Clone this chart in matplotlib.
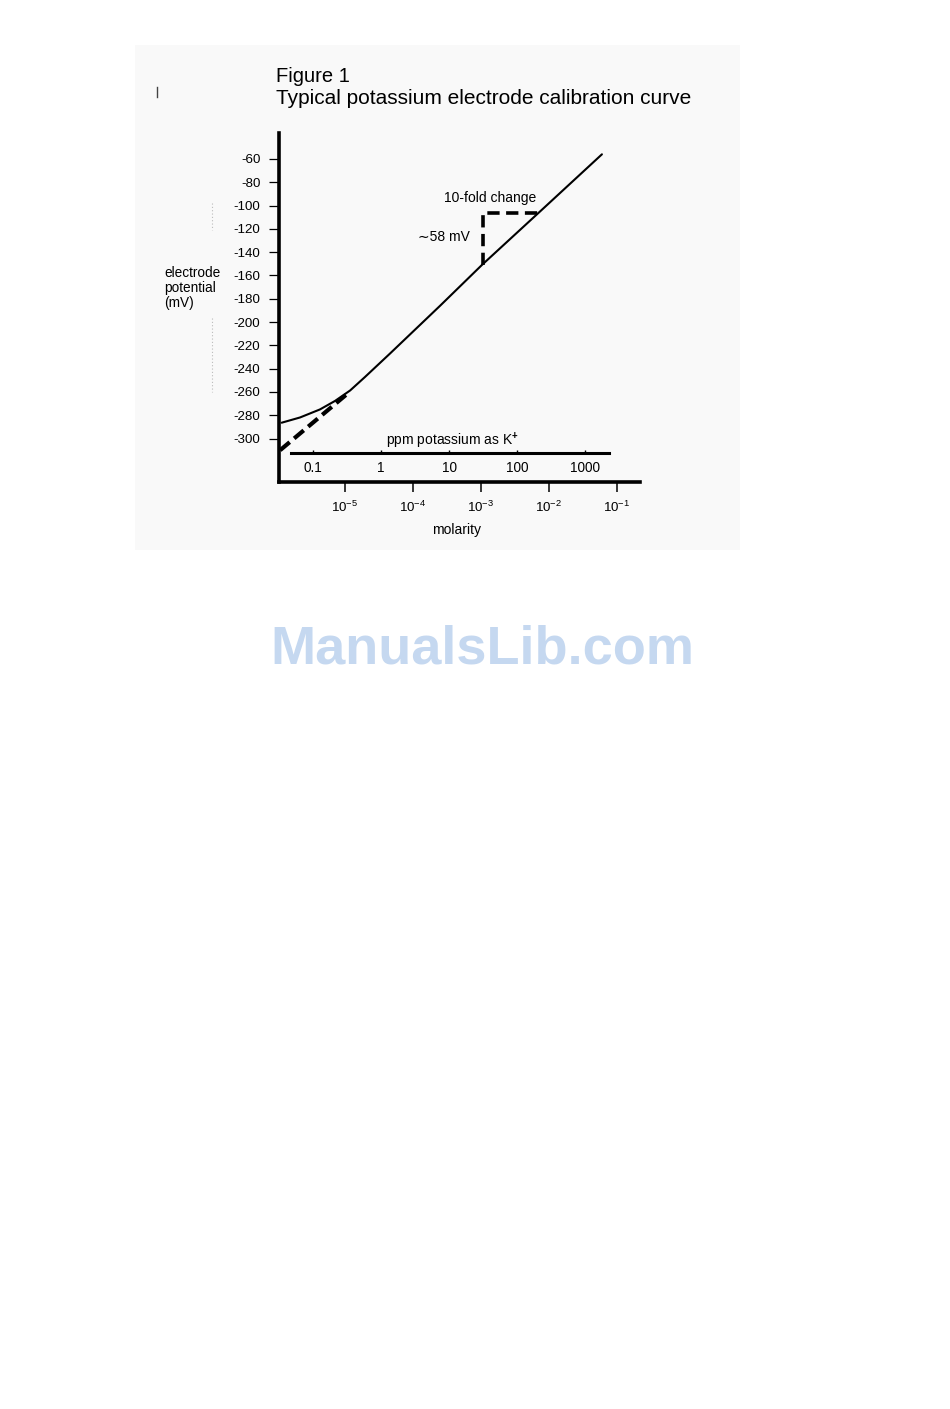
import matplotlib
matplotlib.use("Agg")
import matplotlib.pyplot as plt
from matplotlib.lines import Line2D
from matplotlib.patches import Rectangle
from matplotlib.ticker import NullLocator

plt.rcParams['font.family'] = ['Liberation Sans', 'DejaVu Sans']
plt.rcParams['mathtext.fontset'] = 'custom'
plt.rcParams['mathtext.rm'] = 'Liberation Sans'
plt.rcParams['mathtext.it'] = 'Liberation Sans:italic'
plt.rcParams['mathtext.bf'] = 'Liberation Sans:bold'
plt.rcParams['axes.unicode_minus'] = False

# calibration curve (molarity, mV)
molarity = [1.17e-6, 2.18e-6, 4.28e-6, 7.13e-6, 1.19e-5, 1.97e-5, 4.59e-5, 2.5e-4, 1.03e-3, 7.4e-3, 6.0e-2]
potential = [-286.4, -281.9, -275.0, -267.7, -258.7, -247.1, -227.0, -186, -151, -105, -56]

# dashed extrapolation of the linear part
extrap_molarity = [1.11e-6, 1.11e-5]
extrap_potential = [-310, -261]

# "10-fold change" step
step_molarity = [1.07e-3, 1.07e-3, 7.4e-3]
step_potential = [-151, -106, -106]

y_ticks = [-60, -80, -100, -120, -140, -160, -180, -200, -220, -240, -260, -280, -300]
molar_ticks = [1e-5, 1e-4, 1e-3, 1e-2, 1e-1]
molar_labels = ['$10^{-5}$', '$10^{-4}$', '$10^{-3}$', '$10^{-2}$', '$10^{-1}$']
ppm_ticks = [0.1, 1, 10, 100, 1000]
ppm_labels = ['0.1', '1', '10', '100', '1000']
PPM_PER_MOLAR = 2.95e4  # as drawn in the figure


W, H = 950, 1409


def fx(px):
    return px / W


def fy(py):
    return 1 - py / H


fig = plt.figure(figsize=(9.5, 14.09), dpi=100)
fig.patch.set_facecolor('white')

# faint scanned-page tint
fig.patches.append(Rectangle((fx(135), fy(550)), fx(740) - fx(135), fy(45) - fy(550),
                             transform=fig.transFigure, facecolor='#f9f9f9',
                             edgecolor='none', zorder=-5))

ax = fig.add_axes([fx(279), fy(482), fx(640) - fx(279), fy(133) - fy(482)])
ax.patch.set_visible(False)
ax.set_xscale('log')
ax.set_xlim(1.069e-6, 0.2178)
ax.set_ylim(-337.3, -37.7)

ax.plot(molarity, potential, color='black', lw=1.5, solid_capstyle='round',
        solid_joinstyle='round')
ax.plot(extrap_molarity, extrap_potential, color='black', lw=3.0,
        linestyle=(0, (3.0, 1.4)), dash_capstyle='butt')
ax.plot(step_molarity, step_potential, color='black', lw=2.6,
        linestyle=(0, (3.4, 1.8)))

for s in ['top', 'right']:
    ax.spines[s].set_visible(False)
for s in ['left', 'bottom']:
    ax.spines[s].set_linewidth(2.6)
    ax.spines[s].set_capstyle('projecting')

ax.set_yticks(y_ticks)
ax.set_yticklabels([str(v) for v in y_ticks])
ax.set_xticks(molar_ticks)
ax.set_xticklabels(molar_labels)
ax.xaxis.set_minor_locator(NullLocator())
ax.tick_params(axis='y', direction='out', length=7.5, width=0.9, pad=6,
               labelsize=9.6, colors='black')
ax.tick_params(axis='x', direction='out', length=7.5, width=1.1, pad=5,
               labelsize=9.6, colors='black')

# ppm axis inside the plot
ax2 = ax.secondary_xaxis(0.084, functions=(lambda m: m * PPM_PER_MOLAR,
                                           lambda p: p / PPM_PER_MOLAR))
ax2.spines['top'].set_visible(False)
ax2.spines['bottom'].set_linewidth(2.2)
ax2.spines['bottom'].set_bounds(0.0469, 2249)
ax2.set_xticks(ppm_ticks)
ax2.set_xticklabels(ppm_labels)
ax2.xaxis.set_minor_locator(NullLocator())
ax2.tick_params(axis='x', direction='in', length=2.5, width=1.0, pad=6,
                labelsize=9.8)

# texts
fig.text(fx(276), fy(76), 'Figure 1', fontsize=14.5, ha='left', va='center')
fig.text(fx(276), fy(98), 'Typical potassium electrode calibration curve',
         fontsize=15.0, ha='left', va='center')
fig.text(fx(164), fy(288), 'electrode\npotential\n(mV)', fontsize=9.8,
         ha='left', va='center', linespacing=1.08)
fig.text(fx(490), fy(198), '10-fold change', fontsize=10, ha='center', va='center')
fig.text(fx(470), fy(237), '\u223c58 mV', fontsize=10, ha='right', va='center')
fig.text(fx(453), fy(441), 'ppm potassium as K$^{\\mathbf{+}}$', fontsize=10,
         ha='center', va='center')
fig.text(fx(457), fy(530), 'molarity', fontsize=10, ha='center', va='center')

# scan marks
fig.add_artist(Line2D([fx(157), fx(157)], [fy(87), fy(97)], color='#444444', lw=1.0))
fig.add_artist(Line2D([fx(212), fx(212)], [fy(203), fy(230)], color='#bbbbbb',
                      lw=0.8, linestyle=(0, (1, 2))))
fig.add_artist(Line2D([fx(212), fx(212)], [fy(318), fy(392)], color='#bbbbbb',
                      lw=0.8, linestyle=(0, (1, 2))))

# watermark
fig.text(fx(482), fy(650), 'ManualsLib.com', fontsize=39, fontweight='bold',
         color='#c5d8f0', ha='center', va='center')

fig.savefig('out.png', dpi=100)
